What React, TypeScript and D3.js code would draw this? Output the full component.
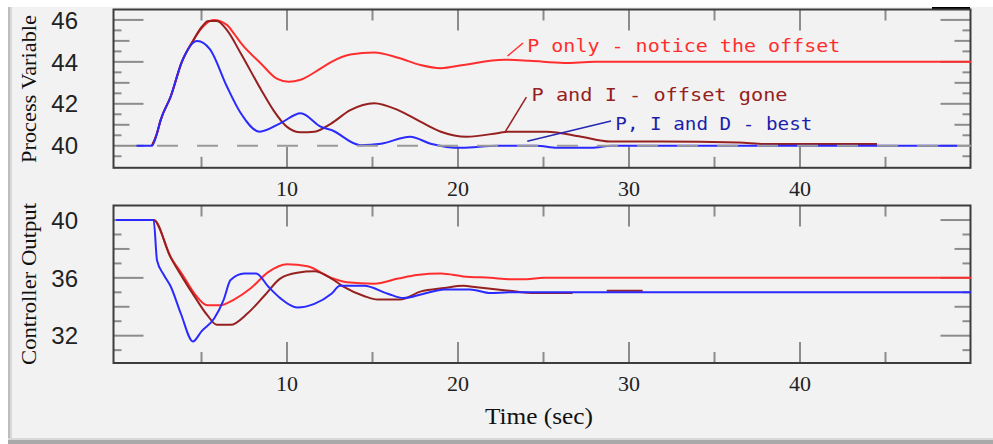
import React from 'react';
import * as d3 from 'd3';

// Process variable (top panel)
const pvPTime = [2.1, 2.4, 2.6, 3.2, 3.85, 4.5, 5.0, 5.7, 6.5, 6.9, 7.3, 8.5, 9.4, 10.1, 10.8, 12, 12.6, 13.7, 15.1, 16.5, 17.8, 19, 20.3, 22.7, 24.2, 26.2, 28, 50];
const pvP = [40, 40.6, 41.2, 42.35, 44.0, 45.0, 45.6, 46.0, 45.75, 45.35, 44.9, 43.9, 43.2, 43.05, 43.15, 43.7, 44.0, 44.35, 44.45, 44.2, 43.85, 43.7, 43.85, 44.1, 44.05, 43.95, 44, 44];

const pvPITime = [2.1, 2.4, 2.6, 3.2, 3.85, 4.5, 5.0, 5.4, 5.9, 6.5, 7.3, 8.5, 9.2, 10, 10.8, 11.6, 12.6, 13.7, 15.1, 16.5, 17.8, 19, 20.5, 22.3, 22.9, 25.2, 27.2, 28.9, 31.8, 36.4, 38, 44.5];
const pvPI = [40, 40.6, 41.2, 42.35, 44.0, 45.0, 45.65, 45.95, 45.95, 45.5, 44.4, 42.65, 41.7, 40.9, 40.64, 40.67, 41.07, 41.7, 42.03, 41.7, 41.15, 40.67, 40.43, 40.6, 40.67, 40.67, 40.43, 40.2, 40.2, 40.15, 40.08, 40.08];

const pvPIDTime = [1.2, 2.1, 2.4, 2.6, 3.2, 3.85, 4.75, 5.5, 6.5, 7.3, 8.4, 9.6, 10.8, 12, 12.6, 14.3, 15.5, 17.2, 18.4, 20.2, 22.3, 24.6, 25.8, 27.8, 29, 49.2];
const pvPID = [40, 40, 40.6, 41.2, 42.35, 44.0, 45.0, 44.6, 42.8, 41.55, 40.67, 41.07, 41.55, 40.9, 40.75, 40.03, 40.1, 40.43, 40.1, 39.9, 40.0, 40.0, 39.9, 39.9, 40, 40];

const setpointTime = [2.4, 50];
const setpoint = [40, 40];

// Controller output (bottom panel)
const coPTime = [0, 2.2, 3.2, 3.9, 4.6, 5.35, 6.1, 6.9, 7.9, 8.9, 10, 11.2, 12.6, 13.5, 15.1, 16.5, 17.6, 19, 20.3, 21.9, 23.1, 24, 25, 50];
const coP = [40, 40, 37.45, 36.2, 34.9, 34.1, 34.1, 34.5, 35.3, 36.4, 36.95, 36.8, 36.0, 35.7, 35.6, 35.95, 36.2, 36.3, 36.1, 36.0, 35.9, 35.9, 36, 36];

const coPITime = [0, 2.2, 3.2, 3.9, 4.6, 5.35, 5.9, 6.7, 7.7, 8.7, 9.6, 10.6, 11.6, 12.6, 13.3, 14.5, 15.3, 16.6, 17.8, 19.2, 20.3, 21.1, 22.7, 23.5, 24.3, 26.7, 27.7, 28.7, 30.8];
const coPI = [40, 40, 37.4, 36.0, 34.7, 33.4, 32.75, 32.75, 33.55, 34.8, 35.95, 36.35, 36.45, 35.95, 35.4, 34.75, 34.5, 34.5, 35.05, 35.3, 35.45, 35.35, 35.15, 35.04, 34.95, 34.95, null, 35.1, 35.1];

const coPIDTime = [0, 2.2, 2.4, 2.8, 3.2, 3.8, 4.5, 5.0, 5.75, 6.3, 6.7, 7.5, 8.2, 8.9, 9.6, 10.6, 11.6, 12.6, 13.1, 14.5, 15.9, 16.8, 18, 19.2, 20.7, 21.9, 23, 50];
const coPID = [40, 40, 37.2, 36.2, 35.4, 33.5, 31.6, 32.3, 33.2, 34.5, 35.85, 36.3, 36.3, 35.4, 34.6, 33.95, 34.2, 34.9, 35.45, 35.45, 34.9, 34.6, 34.9, 35.2, 35.2, 34.95, 35.0, 35.0];

const timeTicks = [10, 20, 30, 40];
const pvTicks = [40, 42, 44, 46];
const coTicks = [32, 36, 40];

const labels = ['P only - notice the offset', 'P and I - offset gone', 'P, I and D - best'];

const RED = '#ff2e2e';
const DARK = '#962020';
const BLUE = '#2a2aff';
const FRAME = '#3c3c3c';
const TICK = '#8c8c8c';

const W = 993, H = 444;
const left = 113.5, right = 970.5;

const x = d3.scaleLinear().domain([0, 50]).range([116, 971]);
const yPV = d3.scaleLinear().domain([38.94, 46.52]).range([168, 9]);
const yCO = d3.scaleLinear().domain([30.09, 41.04]).range([363.3, 205]);

function path(times: number[], vals: (number | null)[], y: d3.ScaleLinear<number, number>) {
  const pts = times.map((t, i) => [t, vals[i]] as [number, number | null]);
  return d3.line<[number, number | null]>()
    .defined(d => d[1] != null)
    .x(d => x(d[0]))
    .y(d => y(d[1] as number))
    .curve(d3.curveMonotoneX)(pts) || '';
}

function Panel({ y, top, bottom, major, medium, minor }: any) {
  const minorX = d3.range(5, 50, 10);
  return (
    <g>
      {/* x ticks, top and bottom, inside */}
      {timeTicks.map(t => (
        <g key={'mx' + t} stroke={TICK} strokeWidth={2}>
          <line x1={x(t)} x2={x(t)} y1={top} y2={top + 21} />
          <line x1={x(t)} x2={x(t)} y1={bottom} y2={bottom - 21} />
        </g>
      ))}
      {minorX.map(t => (
        <g key={'nx' + t} stroke={TICK} strokeWidth={2}>
          <line x1={x(t)} x2={x(t)} y1={top} y2={top + 11} />
          <line x1={x(t)} x2={x(t)} y1={bottom} y2={bottom - 11} />
        </g>
      ))}
      {[...major.map((v: number) => [v, 30]), ...medium.map((v: number) => [v, 16]), ...minor.map((v: number) => [v, 8])]
        .map(([v, len]: number[]) => (
          <g key={'y' + v} stroke={TICK} strokeWidth={2}>
            <line x1={left} x2={left + len} y1={y(v)} y2={y(v)} />
            <line x1={right} x2={right - len} y1={y(v)} y2={y(v)} />
          </g>
        ))}
      <rect x={left} y={top} width={right - left} height={bottom - top} fill="none" stroke={FRAME} strokeWidth={2} />
      {major.map((v: number) => (
        <text key={'l' + v} x={78} y={y(v)} dy="0.36em" textAnchor="end"
          fontFamily="Liberation Sans, Arial, sans-serif" fontSize={24} fill="#222">{v}</text>
      ))}
    </g>
  );
}

export default function App() {
  const mono = 'DejaVu Sans Mono, monospace';
  const serif = 'Liberation Serif, Times New Roman, serif';
  return (
    <svg width={W} height={H} style={{ position: 'absolute', left: 0, top: 0 }}>
      <rect width={W} height={H} fill="#ffffff" />
      <rect x={8} y={7} width={W - 8} height={438 - 7} fill="#f2f2f2" />
      <rect x={8} y={7} width={2} height={431} fill="#bdbdbd" />
      <rect x={10} y={7} width={2} height={431} fill="#d8d8d8" />
      <rect x={8} y={438} width={W - 8} height={2} fill="#d9d9d9" />
      <rect x={8} y={440} width={W - 8} height={4} fill="#a9a9a9" />
      <rect x={932} y={7} width={38} height={3} fill="#000" />

      {/* top panel */}
      <Panel y={yPV} top={9.5} bottom={167.8} major={pvTicks} medium={[41, 43, 45]}
        minor={d3.range(39.5, 46, 1)} />
      <path d={path(pvPTime, pvP, yPV)} fill="none" stroke={RED} strokeWidth={2} />
      <path d={path(pvPITime, pvPI, yPV)} fill="none" stroke={DARK} strokeWidth={2} />
      <path d={path(pvPIDTime, pvPID, yPV)} fill="none" stroke={BLUE} strokeWidth={2} />
      <path d={path(setpointTime, setpoint, yPV)} fill="none" stroke="#9a9a9a" strokeWidth={2} strokeDasharray="21 19" />

      {/* annotations */}
      <line x1={x(22.9)} y1={yPV(44.28)} x2={x(23.8)} y2={yPV(44.9)} stroke={RED} strokeWidth={1.5} />
      <text x={x(24.05)} y={yPV(44.45)} fontFamily={mono} fontSize={17} fill={RED}
        textLength={313} lengthAdjust="spacingAndGlyphs">{labels[0]}</text>
      <line x1={x(22.75)} y1={yPV(40.65)} x2={x(24.0)} y2={yPV(42.32)} stroke={DARK} strokeWidth={1.5} />
      <text x={x(24.3)} y={yPV(42.15)} fontFamily={mono} fontSize={17} fill={DARK}
        textLength={256} lengthAdjust="spacingAndGlyphs">{labels[1]}</text>
      <line x1={x(24.05)} y1={yPV(40.22)} x2={x(28.95)} y2={yPV(41.18)} stroke="#2626b4" strokeWidth={1.5} />
      <text x={x(29.2)} y={yPV(40.75)} fontFamily={mono} fontSize={17} fill="#1e1eaa"
        textLength={197} lengthAdjust="spacingAndGlyphs">{labels[2]}</text>

      {timeTicks.map(t => (
        <text key={'tt' + t} x={x(t)} y={196} textAnchor="middle" fontFamily={serif} fontSize={22} fill="#222">{t}</text>
      ))}

      {/* bottom panel */}
      <Panel y={yCO} top={205.5} bottom={363} major={coTicks} medium={[34, 38]}
        minor={d3.range(31, 41, 2)} />
      <path d={path(coPTime, coP, yCO)} fill="none" stroke={RED} strokeWidth={2} />
      <path d={path(coPITime, coPI, yCO)} fill="none" stroke={DARK} strokeWidth={2} />
      <path d={path(coPIDTime, coPID, yCO)} fill="none" stroke={BLUE} strokeWidth={2} />

      {timeTicks.map(t => (
        <text key={'bt' + t} x={x(t)} y={391} textAnchor="middle" fontFamily={serif} fontSize={22} fill="#222">{t}</text>
      ))}

      <text x={539} y={424} textAnchor="middle" fontFamily={serif} fontSize={23} fill="#111"
        textLength={108} lengthAdjust="spacingAndGlyphs">Time (sec)</text>
      <text transform="translate(36,89) rotate(-90)" textAnchor="middle" fontFamily={serif} fontSize={21} fill="#111"
        textLength={148} lengthAdjust="spacingAndGlyphs">Process Variable</text>
      <text transform="translate(36,284) rotate(-90)" textAnchor="middle" fontFamily={serif} fontSize={21} fill="#111"
        textLength={162} lengthAdjust="spacingAndGlyphs">Controller Output</text>
    </svg>
  );
}
